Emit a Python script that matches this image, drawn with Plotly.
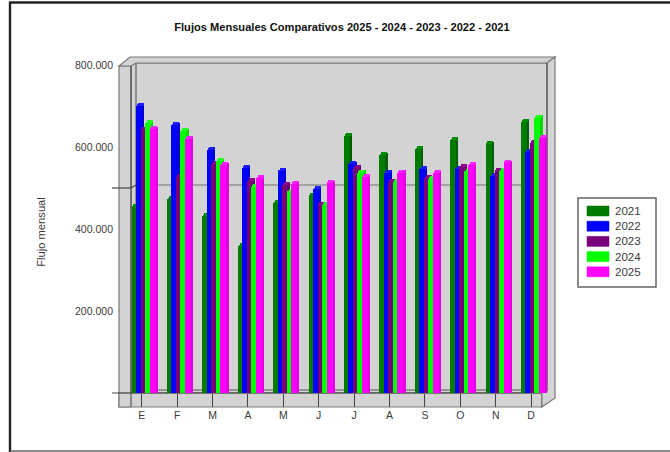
import plotly.graph_objects as go

W, H = 670, 452
months = ["E", "F", "M", "A", "M", "J", "J", "A", "S", "O", "N", "D"]
y2021 = [453000, 473000, 431000, 358000, 463000, 480000, 627000, 580000, 595000, 617000, 607000, 661000]
y2022 = [700000, 653000, 593000, 549000, 541000, 497000, 558000, 537000, 546000, 546000, 529000, 588000]
y2023 = [641000, 527000, 558000, 517000, 507000, 459000, 548000, 515000, 524000, 551000, 541000, 610000]
y2024 = [658000, 639000, 566000, 503000, 490000, 459000, 537000, 515000, 522000, 539000, 541000, 671000]
y2025 = [643000, 620000, 556000, 524000, 510000, 512000, 527000, 537000, 537000, 556000, 561000, 622000]
series_names = ["2021", "2022", "2023", "2024", "2025"]
series_values = [y2021, y2022, y2023, y2024, y2025]
front_colors = ["#007a00", "#0000ff", "#7a007a", "#00ff00", "#ff00ff"]
side_colors = ["#006000", "#0000d0", "#600060", "#00d800", "#e000e0"]
top_colors = ["#008c00", "#1c1cff", "#8c008c", "#20ff20", "#ff20ff"]
tick_vals = [200000, 400000, 600000, 800000]
tick_text = ["200.000", "400.000", "600.000", "800.000"]

# pixel geometry of the plot frame
PX_X0, PX_X1, PX_Y0, PX_Y1 = 114, 556, 57, 407
X_ORIGIN, X_STEP = 141.7, 35.4       # pixel of first month, pixels per month
Y_ZERO, Y_PER_UNIT = 393, 0.41 / 1000  # pixel of 0, pixels per value
BAR_W, BAR_STEP, BAR_START = 6.0, 4.5, -10.2
SIDE_W, CAP_H = 2.2, 3 / (0.41 / 1000)


def px(x):
    return x / W


def py(y):
    return 1 - y / H


def path(points):
    return "M " + " L ".join(f"{px(x):.5f},{py(y):.5f}" for x, y in points) + " Z"


xs = list(range(len(months)))
fig = go.Figure()
for i, (name, vals) in enumerate(zip(series_names, series_values)):
    off = (BAR_START + i * BAR_STEP) / X_STEP
    w = BAR_W / X_STEP
    sw = SIDE_W / X_STEP
    # side face
    fig.add_bar(x=xs, y=[v + CAP_H * 0.8 for v in vals], offset=off + w, width=sw,
                marker=dict(color=side_colors[i], line_width=0), showlegend=False, hoverinfo="skip")
    # top face
    fig.add_bar(x=xs, y=[CAP_H * 0.5] * 12, base=vals, offset=off + 0.4 * sw, width=w,
                marker=dict(color=top_colors[i], line_width=0), showlegend=False, hoverinfo="skip")
    fig.add_bar(x=xs, y=[CAP_H * 0.5] * 12, base=[v + CAP_H * 0.5 for v in vals], offset=off + 0.9 * sw, width=w,
                marker=dict(color=top_colors[i], line_width=0), showlegend=False, hoverinfo="skip")
    # front face
    fig.add_bar(x=xs, y=vals, offset=off, width=w, name=name, showlegend=False,
                marker=dict(color=front_colors[i], line_width=0))

WALL = "#d3d3d3"
EDGE = "#7a7a7a"
shapes = []
annotations = []


def poly(points, fill=WALL, lw=1.2, color=EDGE):
    shapes.append(dict(type="path", path=path(points), xref="paper", yref="paper", fillcolor=fill,
                       line=dict(color=color, width=lw), layer="below"))


def seg(x0, y0, x1, y1, color=EDGE, lw=1.2):
    shapes.append(dict(type="line", x0=px(x0), y0=py(y0), x1=px(x1), y1=py(y1), xref="paper", yref="paper",
                       line=dict(color=color, width=lw), layer="below"))


poly([(131, 63), (547, 63), (547, 393), (131, 393)])               # back wall
poly([(119, 66), (131, 66), (131, 407), (119, 407)])               # left wall
poly([(119, 66), (130, 57), (555, 57), (547, 63), (136, 63), (131, 66)])  # top
poly([(547, 63), (555, 57), (555, 398), (541.7, 407), (541.7, 393), (547, 391)])  # right wall
poly([(119, 393), (541.7, 393), (541.7, 407), (119, 407)])         # floor
seg(136, 63, 136, 388, "#666", 1.2)
seg(131, 66, 131, 407, "#555", 1.2)
seg(136, 185, 547, 185, "#707070", 1.2)
seg(112, 188, 131, 188, "#444", 1.2)
seg(131, 188, 136, 185, "#444", 1.2)
seg(112, 393, 541, 393, "#444", 1.2)
seg(136, 390, 547, 390, "#555", 1.2)
seg(547, 63, 547, 391, "#666", 1.4)
# page frame
seg(10, 2, 10, 452, "#222", 2.4)
seg(9, 2.5, 670, 2.5, "#222", 2.4)
seg(10, 451, 670, 451, "#666", 1.5)

# legend box, built from the series names and colours
poly([(578, 198), (656, 198), (656, 287), (578, 287)], fill="white", lw=1.5, color="#666")
LEGEND_TOP, LEGEND_GAP = 211, 15.2
for i, name in enumerate(series_names):
    cy = LEGEND_TOP + i * LEGEND_GAP
    poly([(587, cy - 5), (609, cy - 5), (609, cy + 5), (587, cy + 5)], fill=front_colors[i], lw=0.5,
         color=front_colors[i])
    annotations.append(dict(text=name, x=px(613), y=py(cy), xref="paper", yref="paper", xanchor="left",
                            yanchor="middle", showarrow=False, xshift=0, font=dict(size=11.5)))

fig.update_layout(
    width=W, height=H, autosize=False,
    margin=dict(l=0, r=0, t=0, b=0),
    paper_bgcolor="white", plot_bgcolor="rgba(0,0,0,0)",
    barmode="overlay", bargap=0, showlegend=False,
    font=dict(family="Liberation Sans, Arial, sans-serif", size=10.5, color="#3a3a3a"),
    title=dict(text="<b>Flujos Mensuales Comparativos 2025 - 2024 - 2023 - 2022 - 2021</b>",
               x=342 / W, xanchor="center", y=py(27), yanchor="middle",
               font=dict(size=11.1, color="#111")),
    xaxis=dict(domain=[px(PX_X0), px(PX_X1)],
               range=[(PX_X0 - X_ORIGIN) / X_STEP, (PX_X1 - X_ORIGIN) / X_STEP],
               tickmode="array", tickvals=xs, ticktext=months,
               ticks="inside", ticklen=13, tickcolor="#444", tickwidth=1,
               showgrid=False, zeroline=False, showline=False, fixedrange=True),
    yaxis=dict(domain=[py(PX_Y1), py(PX_Y0)],
               range=[(Y_ZERO - PX_Y1) / Y_PER_UNIT, (Y_ZERO - PX_Y0) / Y_PER_UNIT],
               tickmode="array", tickvals=tick_vals, ticktext=tick_text,
               ticks="", showgrid=False, zeroline=False, showline=False, fixedrange=True,
               title=dict(text="Flujo mensual", standoff=27, font=dict(size=11.2))),
    shapes=shapes,
    annotations=annotations,
)
fig.write_html("out.html", config={"displayModeBar": False},
               post_script="document.body.style.margin='0';document.body.style.overflow='hidden';")
